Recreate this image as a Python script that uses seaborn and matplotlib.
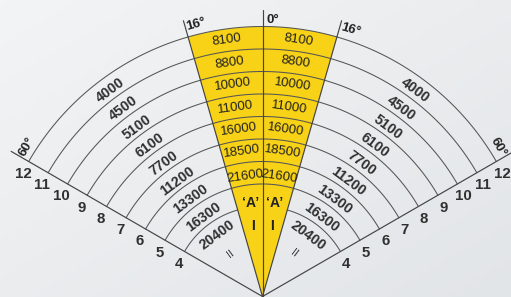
import numpy as np
import pandas as pd
import matplotlib
matplotlib.use("Agg")
import matplotlib.pyplot as plt
from matplotlib.patches import Wedge
from matplotlib.colors import LinearSegmentedColormap
import seaborn as sns

# --- data ---
radii = [4, 5, 6, 7, 8, 9, 10, 11, 12]
side_radii = [3, 4, 5, 6, 7, 8, 9, 10, 11, 12]
side_loads = ["II", "20400", "16300", "13300", "11200", "7700", "6100", "5100", "4500", "4000"]
center_radii = [6, 7, 8, 9, 10, 11, 12]
center_loads = ["21600", "18500", "16000", "11000", "10000", "8800", "8100"]
center_marks = ["\u2018A\u2019", "I"]
boom_angles = [0, 16, 60]
angle_labels = ["0\u00b0", "16\u00b0", "60\u00b0"]

YELLOW = "#F8D216"
INK = "#222222"
LINE = "#444444"

sns.set_theme(style="white")
plt.rcParams["font.family"] = ["Liberation Sans", "DejaVu Sans"]

SCALE = 22.5  # px per metre
fig = plt.figure(figsize=(5.11, 2.97), dpi=100)
ax = fig.add_axes([0, 0, 1, 1])
xlim = (-262.5 / SCALE, (511 - 262.5) / SCALE)
ylim = (-0.5 / SCALE, 296.5 / SCALE)


def pol(r, deg):
    t = np.radians(deg)
    return r * np.sin(t), r * np.cos(t)


# soft grey background
grad = np.add.outer(np.linspace(0, 1, 60), np.linspace(0, 1, 100)) / 2
bg = LinearSegmentedColormap.from_list("bg", ["#F3F4F5", "#E2E5E8"])
ax.imshow(grad, extent=[xlim[0], xlim[1], ylim[0], ylim[1]], origin="upper",
          cmap=bg, aspect="auto", zorder=0)

# yellow sector between the 16 deg lines
lo, mid, hi = boom_angles
ax.add_patch(Wedge((0, 0), radii[-1], 90 - mid, 90 + mid, facecolor=YELLOW,
                   edgecolor="none", zorder=1))

# arcs as one long table
rows = []
for r in radii:
    for side in (-1, 1):
        for a in np.linspace(mid, hi, 60):
            x, y = pol(r, side * a)
            rows.append({"arc": f"s{side}_{r}", "x": x, "y": y})
for r in [5] + center_radii:
    for a in np.linspace(-mid, mid, 40):
        x, y = pol(r, a)
        rows.append({"arc": f"c_{r}", "x": x, "y": y})
arcs = pd.DataFrame(rows)
sns.lineplot(data=arcs, x="x", y="y", units="arc", estimator=None, sort=False,
             color="#555555", linewidth=0.75, ax=ax, legend=False, zorder=2)

# boom angle lines
for a, L in [(lo, 12.75), (mid, 12.75), (-mid, 12.75), (hi, 12.9), (-hi, 12.9)]:
    x, y = pol(L, a)
    ax.plot([0, x], [0, y], color=LINE, linewidth=0.85, zorder=3)

# side load values along the arcs
for r, lab in zip(side_radii, side_loads):
    for side in (-1, 1):
        x, y = pol(r - 0.62, side * 36.5)
        ax.text(x, y, lab, rotation=-side * 36.5, rotation_mode="anchor",
                ha="center", va="center", fontsize=10.3 if lab != "II" else 7.5,
                fontweight="bold" if lab != "II" else "normal", color="#303030", zorder=4)

# values inside the yellow sector
for r, lab in zip(center_radii, center_loads):
    rr = r - 0.5 if r > 6 else r - 0.62
    for side in (-1, 1):
        x, y = pol(rr, side * 8)
        ax.text(x, y, lab, rotation=-side * 8, rotation_mode="anchor",
                ha="center", va="center", fontsize=9.5, color=INK, zorder=4)
for rr, lab in zip([4.2, 3.15], center_marks):
    for side in (-1, 1):
        x, y = pol(rr, side * 7.5)
        ax.text(x, y, lab, ha="center", va="center", fontsize=10,
                fontweight="bold", color=INK, zorder=4)

# radius numbers below the 60 deg lines
for r in radii:
    for side in (-1, 1):
        ux, uy = pol(1, side * hi)
        px, py = (-uy if side < 0 else uy), (ux if side < 0 else -ux)
        x = (r - 0.05) * ux + 0.6 * px
        y = (r - 0.05) * uy + 0.6 * py
        ax.text(x, y, str(r), ha="center", va="center", fontsize=10.8,
                fontweight="bold", color="#303030", zorder=4)

# angle labels at the line ends
ax.text(0.45, 12.3, angle_labels[0], ha="center", va="center", fontsize=9.5,
        fontweight="bold", color=INK, zorder=4)
for side in (-1, 1):
    x, y = pol(12.45, side * mid)
    ax.text(x + 0.5 * np.cos(np.radians(mid)), y - side * 0.5 * np.sin(np.radians(mid)),
            angle_labels[1], rotation=-side * mid, rotation_mode="anchor",
            ha="center", va="center", fontsize=9.5, fontweight="bold", color=INK, zorder=4)
    x, y = pol(12.4, side * hi)
    ux, uy = pol(1, side * hi)
    nx, ny = (uy if side < 0 else -uy), (-ux if side < 0 else ux)
    ax.text(x + 0.5 * nx, y + 0.5 * ny, angle_labels[2], rotation=-side * hi,
            rotation_mode="anchor", ha="center", va="center", fontsize=9.5,
            fontweight="bold", color=INK, zorder=4)

ax.set_xlim(*xlim)
ax.set_ylim(*ylim)
ax.set_axis_off()
fig.savefig("out.png", dpi=100)
